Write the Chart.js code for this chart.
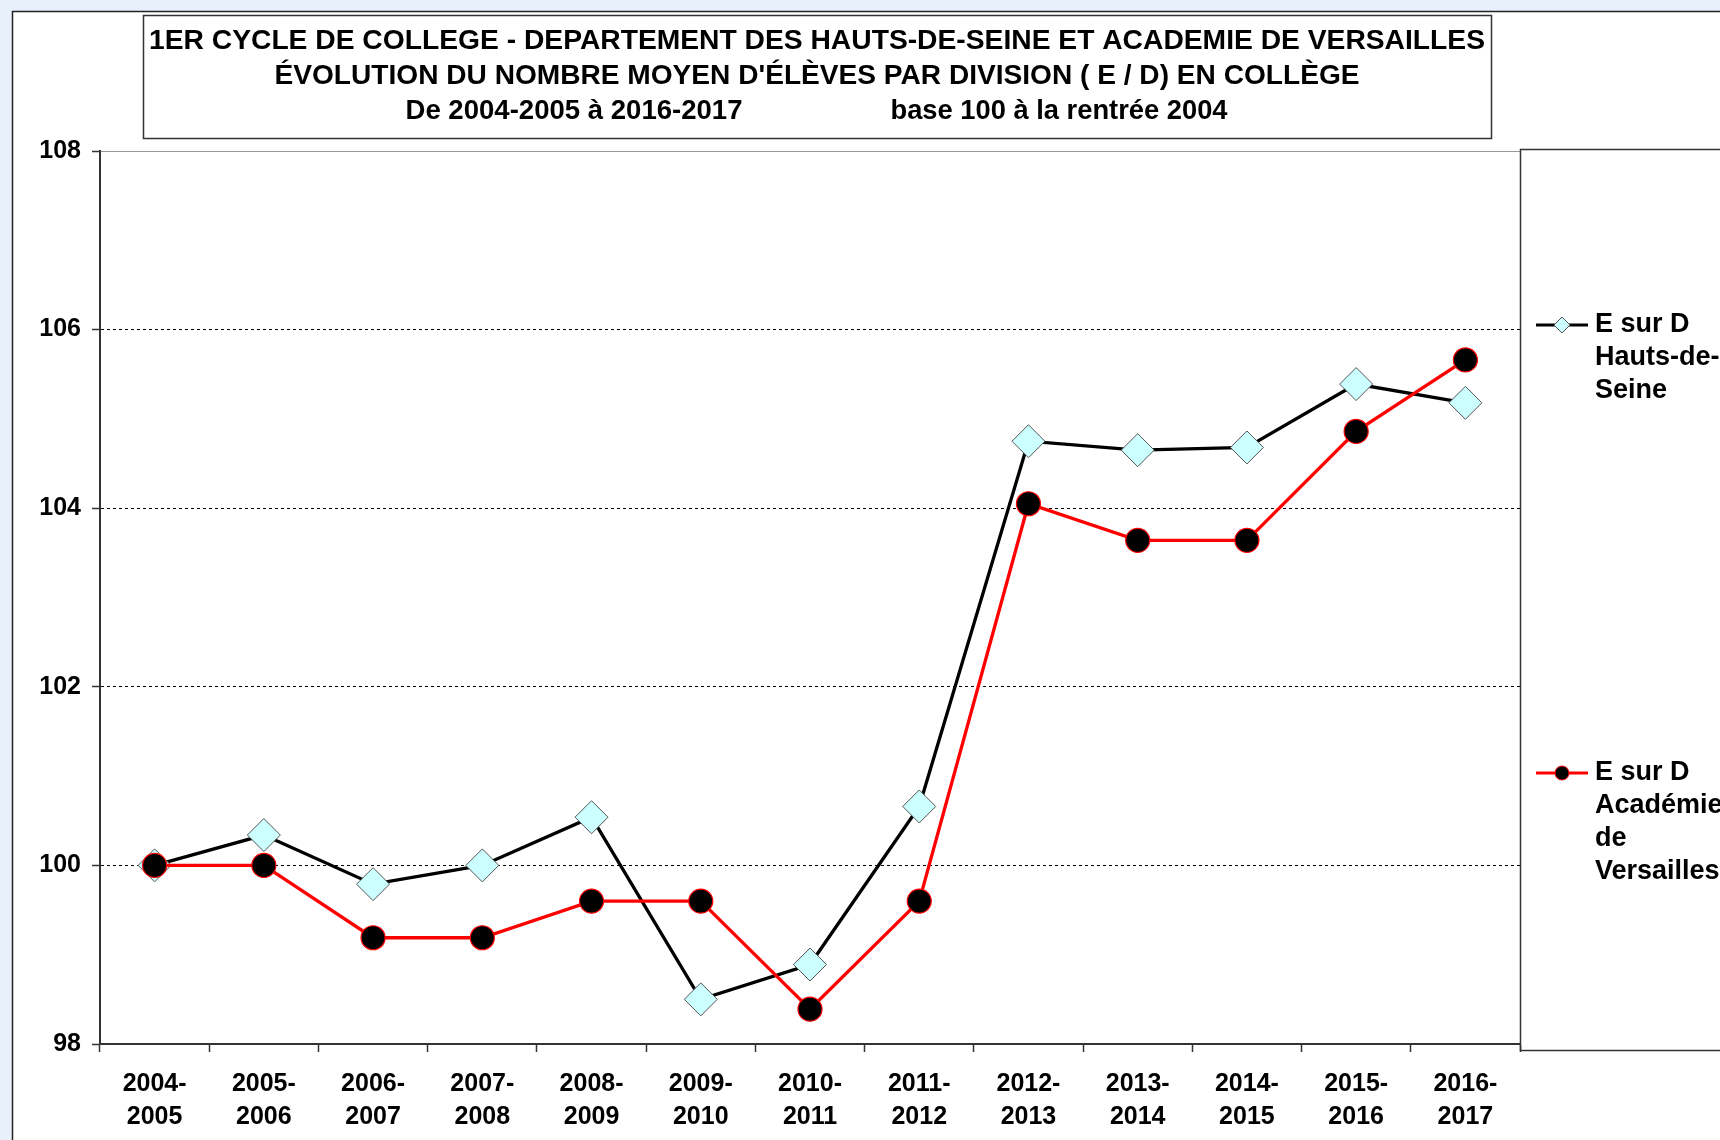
<!DOCTYPE html>
<html lang="fr">
<head>
<meta charset="utf-8">
<title>E sur D - Hauts-de-Seine et Académie de Versailles</title>
<script src="https://cdn.jsdelivr.net/npm/chart.js@4.4.1/dist/chart.umd.min.js"></script>
<style>
    html, body { margin: 0; padding: 0; background: #e8f0fc; }
    canvas { display: block; }
</style>
</head>
<body>
<canvas id="edChart" width="1720" height="1140"></canvas>
<script>
// années scolaires (axe des x)
const annees = ['2004-2005', '2005-2006', '2006-2007', '2007-2008', '2008-2009', '2009-2010', '2010-2011',
                '2011-2012', '2012-2013', '2013-2014', '2014-2015', '2015-2016', '2016-2017'];

// E sur D, base 100 à la rentrée 2004
const hautsDeSeine = [100, 100.34, 99.79, 100.0, 100.54, 98.50, 98.89, 100.66, 104.75, 104.65, 104.68, 105.39, 105.18];
const versailles   = [100, 100.0, 99.19, 99.19, 99.60, 99.60, 98.39, 99.60, 104.05, 103.64, 103.64, 104.86, 105.66];

const yMin = 98, yMax = 108, yPas = 2;
const lignesPointillees = [100, 102, 104, 106];

const titreLignes = [
    '1ER CYCLE DE COLLEGE - DEPARTEMENT DES HAUTS-DE-SEINE ET ACADEMIE DE VERSAILLES',
    "ÉVOLUTION DU NOMBRE MOYEN D'ÉLÈVES PAR DIVISION ( E / D) EN COLLÈGE",
    'De 2004-2005 à 2016-2017',
    'base 100 à la rentrée 2004'
];
const legendeHds = ['E sur D', 'Hauts-de-', 'Seine'];
const legendeVers = ['E sur D', 'Académie', 'de', 'Versailles'];

const police = "'Liberation Sans', Arial, sans-serif";

// texte centré, étiré/comprimé pour tenir dans une largeur donnée
function texteAjuste(c, txt, cx, cy, largeur) {
    const w = c.measureText(txt).width;
    c.save();
    c.translate(cx, cy);
    c.scale(largeur / w, 1);
    c.fillText(txt, 0, 0);
    c.restore();
}

const decor = {
    id: 'decor',
    beforeDraw(chart) {
        const c = chart.ctx;
        const a = chart.chartArea;
        c.save();
        c.fillStyle = '#e8f0fc';
        c.fillRect(0, 0, 1720, 1140);
        c.fillStyle = '#ffffff';
        c.fillRect(12, 11, 1708, 1129);
        c.strokeStyle = '#222';
        c.lineWidth = 1.5;
        c.beginPath();
        c.moveTo(12.5, 1140);
        c.lineTo(12.5, 11.5);
        c.lineTo(1720, 11.5);
        c.stroke();
        // bord haut de la zone de tracé
        c.strokeStyle = '#999';
        c.lineWidth = 1;
        c.beginPath();
        c.moveTo(a.left, a.top + 0.5);
        c.lineTo(a.right, a.top + 0.5);
        c.stroke();
        c.restore();
    },
    afterDraw(chart) {
        const c = chart.ctx;
        c.save();
        // cadre du titre
        c.strokeStyle = '#333';
        c.lineWidth = 1.5;
        c.strokeRect(143.5, 15.5, 1348, 123);
        c.fillStyle = '#000';
        c.textAlign = 'center';
        c.textBaseline = 'middle';
        c.font = 'bold 27px ' + police;
        texteAjuste(c, titreLignes[0], 817, 42, 1336);
        texteAjuste(c, titreLignes[1], 817, 77, 1085);
        texteAjuste(c, titreLignes[2], 574, 112, 337);
        texteAjuste(c, titreLignes[3], 1059, 112, 337);

        // cadre de la légende
        c.strokeRect(1520.5, 149.5, 260, 901);
        const ds = chart.data.datasets;
        c.save();
        c.strokeStyle = ds[0].borderColor;
        c.lineWidth = 3;
        c.beginPath(); c.moveTo(1536, 325); c.lineTo(1588, 325); c.stroke();
        c.fillStyle = ds[0].pointBackgroundColor;
        c.strokeStyle = ds[0].pointBorderColor;
        c.lineWidth = 1;
        Chart.helpers.drawPoint(c, { pointStyle: 'rectRot', radius: 8, rotation: 0, borderWidth: 1 }, 1562, 325);
        c.strokeStyle = ds[1].borderColor;
        c.lineWidth = 3;
        c.beginPath(); c.moveTo(1536, 773); c.lineTo(1588, 773); c.stroke();
        c.fillStyle = ds[1].pointBackgroundColor;
        c.strokeStyle = ds[1].pointBorderColor;
        c.lineWidth = 1;
        Chart.helpers.drawPoint(c, { pointStyle: 'circle', radius: 7, rotation: 0, borderWidth: 1 }, 1562, 773);
        c.restore();

        c.fillStyle = '#000';
        c.textAlign = 'left';
        c.font = 'bold 27px ' + police;
        legendeHds.forEach((t, i) => c.fillText(t, 1595, 325 + i * 33));
        legendeVers.forEach((t, i) => c.fillText(t, 1595, 773 + i * 33));
        c.restore();
    }
};

const ctx = document.getElementById('edChart').getContext('2d');

const chart = new Chart(ctx, {
    type: 'line',
    data: {
        labels: annees.map(a => [a.slice(0, 5), a.slice(5)]),
        datasets: [
            {
                label: 'E sur D Hauts-de-Seine',
                data: hautsDeSeine,
                borderColor: '#000000',
                borderWidth: 3.3,
                pointStyle: 'rectRot',
                pointRadius: 16.5,
                pointBackgroundColor: '#ccffff',
                pointBorderColor: '#555555',
                pointBorderWidth: 1,
                tension: 0,
                order: 2
            },
            {
                label: 'E sur D Académie de Versailles',
                data: versailles,
                borderColor: '#ff0000',
                borderWidth: 3.3,
                pointStyle: 'circle',
                pointRadius: 12,
                pointBackgroundColor: '#000000',
                pointBorderColor: '#ff0000',
                pointBorderWidth: 1.2,
                tension: 0,
                order: 1
            }
        ]
    },
    options: {
        responsive: false,
        animation: false,
        layout: { padding: { top: 151, right: 200, left: 0, bottom: 0 } },
        plugins: {
            legend: { display: false },
            title: { display: false },
            tooltip: { enabled: false }
        },
        scales: {
            x: {
                offset: true,
                afterFit(scale) { scale.height = 96; },
                grid: {
                    offset: true,
                    drawOnChartArea: false,
                    tickLength: 8,
                    tickColor: '#333',
                    tickWidth: 1.5
                },
                border: { color: '#333', width: 2 },
                ticks: {
                    color: '#000',
                    padding: 16,
                    maxRotation: 0,
                    autoSkip: false,
                    font: { family: police, size: 25, weight: 'bold', lineHeight: 1.32 }
                }
            },
            y: {
                min: yMin,
                max: yMax,
                afterFit(scale) { scale.width = 100; },
                grid: {
                    color: c => lignesPointillees.includes(c.tick.value) ? '#000' : 'rgba(0,0,0,0)',
                    lineWidth: 1,
                    tickLength: 8,
                    tickColor: '#333',
                    tickWidth: 1.5
                },
                border: { color: '#333', width: 2, dash: [3, 3] },
                ticks: {
                    stepSize: yPas,
                    color: '#000',
                    padding: 11,
                    font: { family: police, size: 25, weight: 'bold' }
                }
            }
        }
    },
    plugins: [decor]
});
</script>
</body>
</html>
